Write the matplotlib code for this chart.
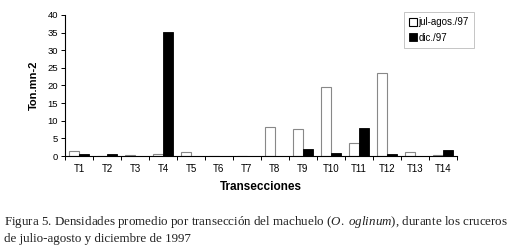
import numpy as np
import matplotlib.pyplot as plt

transectos = ["T%d" % i for i in range(1, 15)]
jul_agos = [1.3, 0.0, 0.3, 0.6, 1.0, 0.0, 0.0, 8.1, 7.8, 19.6, 3.8, 23.4, 1.0, 0.3]
dic = [0.6, 0.5, 0.0, 35.3, 0.0, 0.0, 0.0, 0.0, 2.0, 0.8, 8.0, 0.5, 0.0, 1.7]

plt.rcParams["font.family"] = ["Liberation Sans", "DejaVu Sans"]
plt.rcParams["mathtext.fontset"] = "custom"
plt.rcParams["mathtext.it"] = "Liberation Serif:italic"
plt.rcParams["mathtext.rm"] = "Liberation Serif"

fig = plt.figure(figsize=(5.10, 2.47), dpi=100)
ax = fig.add_axes([0.1275, 0.3684, 0.768, 0.571])

x = np.arange(len(transectos))
w = 0.35
ax.bar(x - w / 2, jul_agos, w, facecolor="white", edgecolor="#888888", linewidth=0.8,
       label="jul-agos./97")
ax.bar(x + w / 2, dic, w, facecolor="black", edgecolor="black", linewidth=0.6,
       label="dic./97")

ax.set_xlim(-0.5, len(transectos) - 0.5)
ax.set_ylim(0, 40)
ax.set_yticks(range(0, 41, 5))
ax.set_xticks(x)
ax.set_xticklabels(transectos)
ax.set_xticks(np.arange(-0.5, len(transectos), 1.0), minor=True)
ax.tick_params(axis="x", which="major", length=0, labelsize=7, pad=6)
ax.tick_params(axis="x", which="minor", length=3, width=0.7)
ax.tick_params(axis="y", labelsize=6.8, length=3, width=0.7, pad=2)
for s in ["top", "right"]:
    ax.spines[s].set_visible(False)
for s in ["left", "bottom"]:
    ax.spines[s].set_linewidth(0.8)

ax.set_ylabel("Ton.mn-2", fontsize=8, fontweight="bold", labelpad=6)
ax.set_xlabel("Transecciones", fontsize=8.5, fontweight="bold", labelpad=5)

leg = ax.legend(loc="upper left", bbox_to_anchor=(0.853, 1.055), fontsize=7,
                frameon=True, fancybox=False, edgecolor="#aaaaaa", handlelength=0.8,
                handleheight=0.9, handletextpad=0.2, borderpad=0.5, labelspacing=0.6)
leg.get_frame().set_linewidth(0.6)
leg.legend_handles[0].set_edgecolor("black")

fig.text(0.008, 0.09,
         "Figura 5. Densidades promedio por transección del machuelo ($\\it{O.\\ oglinum}$), durante los cruceros",
         family="Liberation Serif", fontsize=9.4, color="#222222")
fig.text(0.008, 0.02, "de julio-agosto y diciembre de 1997",
         family="Liberation Serif", fontsize=9.4, color="#222222")

fig.savefig("out.png", dpi=100)
